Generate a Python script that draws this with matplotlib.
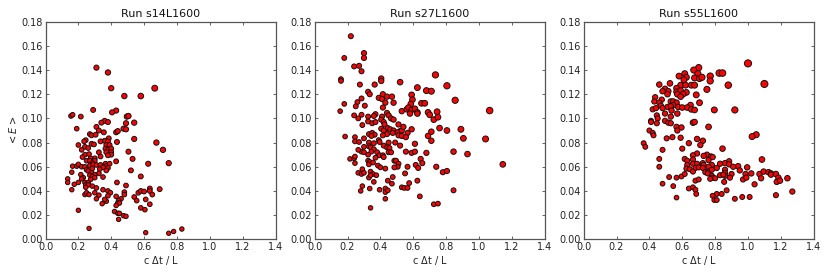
import numpy as np
import matplotlib
matplotlib.use("Agg")
import matplotlib.pyplot as plt

titles = ["Run s14L1600", "Run s27L1600", "Run s55L1600"]

run1 = [(0.31,0.142),(0.38,0.138),(0.40,0.125),(0.665,0.125),(0.48,0.1185),(0.58,0.1185),(0.29,0.107),(0.43,0.1065),(0.405,0.105),
(0.155,0.102),(0.165,0.103),(0.215,0.1015),(0.495,0.1015),(0.505,0.102),(0.36,0.098),(0.38,0.097),(0.34,0.0965),(0.54,0.0965),(0.49,0.096),
(0.19,0.0915),(0.31,0.093),(0.475,0.0915),(0.49,0.091),(0.325,0.09),(0.355,0.0885),(0.43,0.0885),(0.44,0.0895),(0.27,0.087),(0.28,0.086),(0.305,0.0865),
(0.54,0.083),(0.385,0.0835),(0.36,0.0815),(0.335,0.081),(0.38,0.081),(0.435,0.0805),(0.675,0.08),(0.245,0.082),(0.235,0.081),(0.20,0.078),(0.28,0.079),(0.295,0.0785),
(0.37,0.078),(0.39,0.078),(0.24,0.0765),(0.26,0.0755),(0.22,0.074),(0.365,0.075),(0.38,0.074),(0.40,0.075),(0.715,0.074),(0.505,0.0725),(0.325,0.072),(0.37,0.072),
(0.40,0.072),(0.40,0.07),(0.38,0.0695),(0.24,0.07),(0.265,0.0705),(0.225,0.068),(0.335,0.0685),(0.275,0.067),(0.30,0.067),(0.53,0.0665),(0.30,0.065),(0.25,0.065),
(0.27,0.065),(0.285,0.063),(0.43,0.0645),(0.625,0.0625),(0.75,0.063),(0.165,0.0605),(0.19,0.0605),(0.20,0.062),(0.22,0.06),(0.24,0.06),(0.27,0.061),(0.29,0.062),
(0.31,0.0615),(0.335,0.0615),(0.365,0.0625),(0.37,0.0605),(0.39,0.0625),(0.35,0.0595),(0.38,0.059),(0.285,0.0585),(0.33,0.058),(0.37,0.057),(0.25,0.0575),(0.26,0.0565),
(0.52,0.057),(0.16,0.0555),(0.28,0.055),(0.325,0.0545),(0.30,0.0535),(0.215,0.0535),(0.27,0.053),(0.23,0.051),(0.285,0.052),(0.30,0.051),(0.35,0.0515),(0.58,0.052),
(0.135,0.05),(0.135,0.047),(0.22,0.05),(0.275,0.0495),(0.20,0.047),(0.24,0.047),(0.26,0.047),(0.245,0.045),(0.26,0.045),(0.175,0.0455),(0.435,0.047),(0.49,0.0445),
(0.245,0.043),(0.285,0.044),(0.31,0.0425),(0.16,0.041),(0.35,0.041),(0.38,0.04),(0.395,0.0385),(0.24,0.037),(0.25,0.0385),(0.265,0.037),(0.30,0.0385),(0.325,0.0365),(0.38,0.036),
(0.48,0.039),(0.48,0.037),(0.565,0.0385),(0.58,0.04),(0.60,0.0395),(0.635,0.042),(0.635,0.04),(0.65,0.037),(0.695,0.0415),(0.43,0.0355),(0.54,0.035),(0.46,0.0335),(0.445,0.032),
(0.31,0.0335),(0.37,0.0315),(0.36,0.033),(0.345,0.0295),(0.44,0.03),(0.45,0.03),(0.43,0.028),(0.555,0.032),(0.61,0.033),(0.635,0.029),(0.58,0.026),(0.605,0.0245),(0.20,0.024),
(0.42,0.023),(0.44,0.0215),(0.45,0.0215),(0.475,0.0195),(0.49,0.019),(0.445,0.0165),(0.265,0.009),(0.61,0.0055),(0.75,0.005),(0.78,0.0065),(0.83,0.0085)]

run2 = [(0.22,0.168),(0.30,0.154),(0.18,0.15),(0.30,0.15),(0.24,0.143),(0.27,0.1435),(0.285,0.139),(0.16,0.1325),(0.16,0.131),(0.405,0.133),(0.405,0.131),(0.52,0.13),
(0.275,0.128),(0.365,0.128),(0.735,0.136),(0.805,0.127),(0.625,0.1255),(0.68,0.123),(0.71,0.1225),(0.325,0.122),(0.335,0.12),(0.415,0.12),(0.39,0.117),(0.41,0.116),(0.44,0.118),
(0.47,0.118),(0.59,0.1195),(0.285,0.1165),(0.26,0.1135),(0.18,0.112),(0.43,0.113),(0.48,0.113),(0.595,0.1155),(0.585,0.112),(0.855,0.115),(0.65,0.1125),(0.67,0.1125),(0.25,0.11),
(0.305,0.1105),(0.415,0.109),(0.155,0.106),(0.53,0.106),(0.56,0.1075),(0.57,0.109),(0.59,0.107),(0.61,0.108),(0.58,0.104),(0.625,0.105),(0.625,0.104),(0.69,0.105),(0.70,0.103),
(0.745,0.1055),(1.065,0.1065),(0.24,0.1025),(0.285,0.103),(0.265,0.1),(0.325,0.1015),(0.37,0.1035),(0.36,0.102),(0.41,0.1015),(0.44,0.1045),(0.45,0.1025),(0.465,0.1),(0.48,0.099),
(0.725,0.099),(0.75,0.101),(0.405,0.099),(0.325,0.0975),(0.35,0.096),(0.37,0.097),(0.42,0.097),(0.425,0.095),(0.29,0.0945),(0.51,0.095),(0.405,0.0915),(0.445,0.092),(0.42,0.09),
(0.46,0.091),(0.48,0.09),(0.76,0.092),(0.805,0.09),(0.89,0.091),(0.59,0.091),(0.71,0.089),(0.52,0.0895),(0.505,0.0885),(0.53,0.09),(0.54,0.093),(0.565,0.088),(0.44,0.087),(0.475,0.088),
(0.33,0.087),(0.35,0.088),(0.365,0.0865),(0.345,0.0855),(0.415,0.086),(0.51,0.086),(0.53,0.0855),(0.555,0.0845),(0.69,0.0855),(0.185,0.085),(0.245,0.0845),(0.30,0.0835),(0.245,0.081),
(0.27,0.0805),(0.33,0.08),(0.39,0.082),(0.395,0.0805),(0.36,0.0795),(0.45,0.08),(0.49,0.08),(0.71,0.0815),(0.905,0.0835),(1.04,0.083),(0.61,0.079),(0.30,0.0765),(0.33,0.077),(0.34,0.076),
(0.36,0.0745),(0.42,0.0775),(0.44,0.076),(0.455,0.0755),(0.52,0.0775),(0.285,0.0725),(0.265,0.074),(0.30,0.072),(0.345,0.0725),(0.38,0.072),(0.45,0.072),(0.465,0.072),(0.555,0.0725),
(0.59,0.0715),(0.61,0.0725),(0.68,0.0715),(0.845,0.0725),(0.93,0.0705),(0.325,0.07),(0.395,0.0695),(0.415,0.0695),(0.42,0.068),(0.37,0.0675),(0.215,0.0665),(0.24,0.067),(0.245,0.0685),
(0.645,0.0665),(0.325,0.065),(0.335,0.064),(0.245,0.063),(0.33,0.062),(0.355,0.0635),(0.385,0.061),(0.40,0.0595),(0.485,0.065),(0.495,0.065),(0.51,0.0625),(0.505,0.06),(0.485,0.0595),
(0.43,0.0585),(0.565,0.06),(0.615,0.0615),(0.63,0.059),(0.655,0.063),(0.74,0.06),(1.145,0.062),(0.29,0.058),(0.265,0.055),(0.285,0.054),(0.30,0.055),(0.34,0.056),(0.355,0.054),
(0.375,0.053),(0.33,0.051),(0.34,0.053),(0.55,0.0545),(0.78,0.0555),(0.805,0.0565),(0.475,0.0515),(0.445,0.0485),(0.47,0.046),(0.36,0.0475),(0.29,0.044),(0.335,0.042),(0.28,0.04),
(0.395,0.041),(0.43,0.042),(0.43,0.039),(0.445,0.0405),(0.53,0.043),(0.545,0.0425),(0.565,0.0425),(0.575,0.0465),(0.625,0.0485),(0.845,0.0405),(0.43,0.0335),(0.64,0.0355),(0.34,0.026),
(0.725,0.029),(0.75,0.0295)]

run3 = [(1.0,0.1455),(0.70,0.142),(0.67,0.14),(0.695,0.137),(0.615,0.137),(0.825,0.1375),(0.845,0.1375),(0.58,0.135),(0.675,0.1335),(0.705,0.133),(0.72,0.134),(0.77,0.135),(0.625,0.134),
(0.77,0.131),(0.61,0.132),(1.10,0.1285),(0.46,0.128),(0.525,0.129),(0.59,0.1275),(0.62,0.1275),(0.655,0.1275),(0.675,0.1275),(0.88,0.1275),(0.565,0.125),(0.495,0.1245),(0.48,0.1225),
(0.515,0.1225),(0.565,0.122),(0.59,0.123),(0.625,0.1215),(0.75,0.124),(0.51,0.12),(0.57,0.12),(0.605,0.12),(0.685,0.1195),(0.59,0.118),(0.435,0.1175),(0.475,0.1155),(0.43,0.114),
(0.46,0.113),(0.53,0.114),(0.545,0.114),(0.565,0.113),(0.705,0.113),(0.47,0.1105),(0.545,0.111),(0.65,0.111),(0.51,0.1095),(0.53,0.11),(0.575,0.1095),(0.60,0.109),(0.63,0.109),
(0.42,0.1075),(0.44,0.1085),(0.48,0.1085),(0.535,0.1065),(0.655,0.1075),(0.675,0.107),(0.795,0.107),(0.92,0.107),(0.495,0.104),(0.57,0.104),(0.445,0.1025),(0.45,0.10),(0.53,0.1015),
(0.41,0.098),(0.41,0.097),(0.445,0.096),(0.495,0.098),(0.515,0.0965),(0.53,0.096),(0.665,0.0965),(0.675,0.097),(0.565,0.093),(0.595,0.0925),(0.76,0.093),(0.40,0.09),(0.57,0.09),
(0.42,0.088),(0.425,0.086),(1.05,0.0865),(1.025,0.085),(0.505,0.0835),(0.54,0.0845),(0.59,0.084),(0.69,0.083),(0.725,0.0815),(0.365,0.0795),(0.64,0.0795),(0.71,0.078),(0.375,0.0765),
(0.60,0.075),(0.845,0.075),(0.48,0.074),(0.69,0.071),(0.665,0.0695),(0.75,0.07),(0.775,0.0685),(0.73,0.069),(0.785,0.068),(0.46,0.0665),(0.615,0.0665),(0.63,0.065),(0.665,0.066),
(0.76,0.0655),(1.085,0.066),(0.885,0.0645),(0.86,0.063),(0.885,0.062),(0.83,0.0625),(0.94,0.0605),(0.63,0.0615),(0.665,0.0625),(0.69,0.0625),(0.725,0.063),(0.73,0.0615),(0.78,0.0615),
(0.46,0.06),(0.625,0.0585),(0.645,0.058),(0.68,0.059),(0.70,0.0595),(0.725,0.059),(0.76,0.06),(0.81,0.059),(0.91,0.06),(0.995,0.0595),(0.665,0.056),(0.74,0.0555),(0.76,0.056),
(0.78,0.0575),(0.86,0.0575),(0.95,0.057),(0.755,0.0545),(0.86,0.055),(0.90,0.054),(0.985,0.054),(1.02,0.0545),(1.07,0.054),(1.095,0.056),(1.125,0.0555),(1.14,0.0545),(1.14,0.0535),(1.17,0.054),
(0.52,0.0515),(0.565,0.051),(0.595,0.052),(0.615,0.054),(0.78,0.0525),(0.785,0.051),(0.80,0.0505),(0.83,0.053),(0.86,0.0525),(0.85,0.0535),(0.89,0.051),(0.77,0.05),(1.08,0.0505),(1.185,0.051),
(1.24,0.0505),(0.97,0.0495),(0.99,0.051),(0.68,0.0485),(0.70,0.0495),(0.855,0.0475),(1.175,0.0475),(1.195,0.0485),(0.48,0.046),(1.04,0.0455),(0.545,0.044),(0.64,0.042),(0.665,0.043),(0.68,0.041),
(0.87,0.0405),(1.27,0.0395),(0.685,0.0375),(0.81,0.0375),(0.84,0.0375),(0.785,0.036),(1.17,0.0365),(0.565,0.0345),(0.965,0.035),(1.01,0.035),(0.92,0.0335),(0.795,0.0325),(0.81,0.0325)]

runs = [run1, run2, run3]
lefts = [45.5, 314.7, 583.7]

W, H = 830, 277
fig = plt.figure(figsize=(W/100, H/100), dpi=100)
for i, (title, run, left) in enumerate(zip(titles, runs, lefts)):
    ax = fig.add_axes([left/W, 1-239.3/H, 230/W, 217.6/H])
    x, y = np.array(run).T
    diam = 3.1 + 14 * x * y      # marker grows with the product of both coordinates
    ax.scatter(x, y, s=diam**2, c="#ff0000", edgecolors="#111111", linewidths=0.7, clip_on=False, zorder=3)
    ax.set_xlim(0, 1.4)
    ax.set_ylim(0, 0.18)
    ax.set_xticks(np.arange(0, 1.41, 0.2))
    ax.set_yticks(np.arange(0, 0.181, 0.02))
    ax.set_yticklabels([f"{v:.2f}" for v in np.arange(0, 0.181, 0.02)])
    ax.tick_params(direction="in", top=True, right=True, length=2.5, width=0.5, labelsize=7.0, pad=1.8, colors="#222222")
    for s in ax.spines.values():
        s.set_linewidth(0.9)
        s.set_color("#555555")
    ax.set_title(title, fontsize=8.0, pad=3.5, color="#111111")
    ax.set_xlabel(r"c $\Delta$t / L", fontsize=7.0, labelpad=1.5, color="#222222")
    if i == 0:
        ax.set_ylabel(r"$<E>$", fontsize=7.0, labelpad=2.0, color="#222222")
fig.savefig("out.png", dpi=100)
